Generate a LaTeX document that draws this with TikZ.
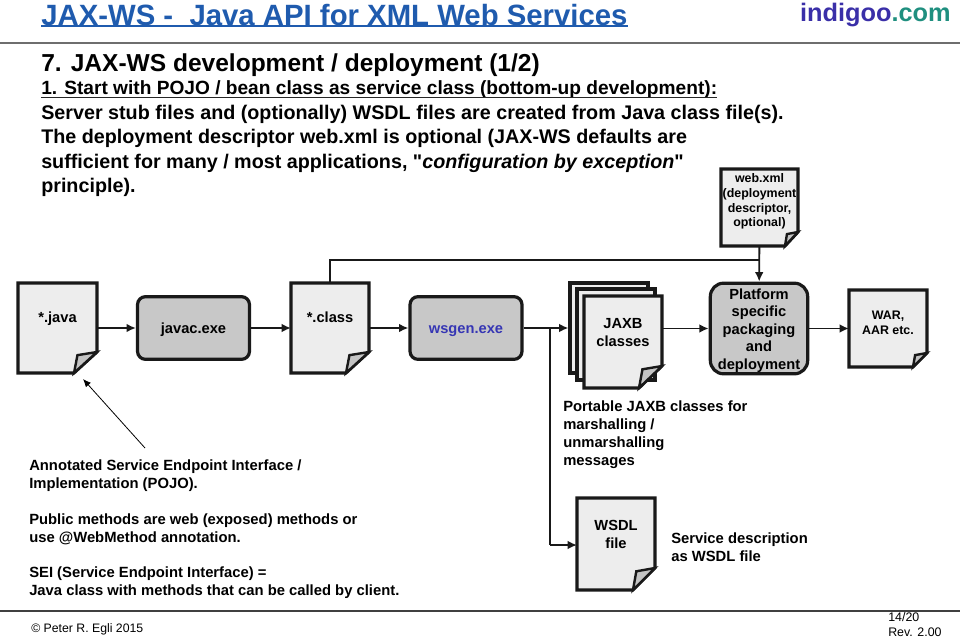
\documentclass[tikz,border=0pt]{standalone}
\usepackage{fontspec}
\setmainfont{Liberation Sans}[Ligatures=TeXOff]
\usetikzlibrary{arrows.meta}
\definecolor{titleblue}{HTML}{1F5BAE}
\definecolor{indigoblue}{HTML}{3A2FA8}
\definecolor{indigoteal}{HTML}{1F8F7F}
\definecolor{wsgenblue}{HTML}{3636B4}
\definecolor{paperfill}{HTML}{EDEDED}
\definecolor{foldfill}{HTML}{C4C4C4}
\definecolor{toolfill}{HTML}{C8C8C8}
\definecolor{rulegray}{HTML}{6E6E6E}
\tikzset{
	toolbox/.style={draw=black!90, line width=2.4pt, fill=toolfill, rounded corners=6pt, inner sep=0pt, text height=8pt, text depth=0pt, font=\fontsize{11}{13.5}\selectfont\bfseries, align=center},
	filepage/.style={draw=black!90, line width=2.3pt, fill=paperfill, line join=miter},
	filefold/.style={draw=black!90, line width=1.8pt, fill=foldfill, line join=miter},
	fileframe/.style={inner sep=0pt, outer sep=0pt},
	filetext/.style={font=\fontsize{11}{13.5}\selectfont\bfseries, align=center, inner sep=0pt},
	filesmall/.style={filetext, font=\fontsize{9.3}{11}\selectfont\bfseries},
	note/.style={font=\fontsize{11.1}{13.3}\selectfont\bfseries, align=left, anchor=north west, inner sep=0pt},
	conn/.style={draw=black!90, line width=1.4pt, -{Latex[length=7pt,width=6.5pt]}},
	branch/.style={draw=black!90, line width=1.4pt}
}
\begin{document}
\begin{tikzpicture}[x=0.75pt, y=-0.75pt]
\useasboundingbox (0,0) rectangle (960,638);

% header
\node[anchor=west, inner sep=0pt, text=titleblue, font=\fontsize{22}{24}\selectfont\bfseries] (title) at (41,15) {JAX-WS -\ \ Java API for XML Web Services};
\draw[titleblue, line width=2pt] (title.south west) -- (title.south east);
\node[anchor=east, inner sep=0pt, font=\fontsize{19}{22}\selectfont\bfseries] (logo) at (951,15) {\textcolor{indigoblue}{indigoo}\textcolor{indigoteal}{.com}};
\coordinate (headleft) at (0,43);
\coordinate (headright) at (960,43);
\draw[rulegray, line width=1.6pt] (headleft) -- (headright);

% body text
\node[anchor=west, inner sep=0pt, font=\fontsize{18.4}{20}\selectfont\bfseries] (heading) at (41,65) {7. JAX-WS development / deployment (1/2)};
\node[anchor=west, inner sep=0pt, font=\fontsize{14.35}{18.3}\selectfont\bfseries] (introhead) at (41,90) {1. Start with POJO / bean class as service class (bottom-up development):};
\draw[black!85, line width=0.9pt] (introhead.base west) ++(0,2.5) coordinate (introlinea) (introhead.base east) ++(0,2.5) coordinate (introlineb) (introlinea) -- (introlineb);
\node[anchor=north west, inner sep=0pt, align=left, font=\fontsize{14.8}{18.3}\selectfont\bfseries] (intro) at (41,105) {Server stub files and (optionally) WSDL files are created from Java class file(s).\\
The deployment descriptor web.xml is optional (JAX-WS defaults are\\
sufficient for many / most applications, "\textit{configuration by exception}"\\
principle).};

% pages behind the JAXB file
\node[filepage, inner sep=0pt, minimum width=58.5pt, minimum height=67.5pt] (jaxbback) at (609,328) {};
\node[filepage, inner sep=0pt, minimum width=58.5pt, minimum height=68.25pt] (jaxbmid) at (616,334.5) {};

% file symbols
\foreach \nm/\xa/\ya/\xb/\yb/\fx/\fy/\ty/\sty/\txt in {
	webxml/721/169/798/246/13/14/201.5/filesmall/{web.xml\\(deployment\\descriptor,\\optional)},
	java/18/283/97/373/23/21/319/filetext/{*.java},
	class/291/283/369/373/23/21/317/filetext/{*.class},
	jaxb/584/296/662/388/23/22/332.5/filetext/{JAXB\\classes},
	war/849/290/927/367/14/14/322.5/filesmall/{WAR,\\AAR etc.},
	wsdl/577/498/655/590/22/22/534/filetext/{WSDL\\file}}
{
	\draw[filepage] (\xa,\ya) -- (\xb,\ya) -- (\xb,\yb-\fy) -- (\xb-\fx,\yb) -- (\xa,\yb) -- cycle;
	\draw[filefold] (\xb-\fx,\yb) -- (\xb-0.85*\fx,\yb-0.85*\fy) -- (\xb,\yb-\fy) -- cycle;
	\node[\sty] (\nm text) at ({(\xa+\xb)/2},\ty) {\txt};
	\node[fileframe, minimum width=(\xb-\xa)*0.75pt, minimum height=(\yb-\ya)*0.75pt] (\nm) at ({(\xa+\xb)/2},{(\ya+\yb)/2}) {};
}

% tools
\node[toolbox, minimum width=84pt, minimum height=47pt] (javac) at (193.5,328) {javac.exe};
\node[toolbox, minimum width=84pt, minimum height=47pt, text=wsgenblue] (wsgen) at (466,328) {wsgen.exe};
\node[toolbox, rounded corners=10pt, minimum width=73pt, minimum height=68pt] (platform) at (759,328.5) {};
\node[filetext, font=\fontsize{11}{13.2}\selectfont\bfseries] (platform text) at (759,330.5) {Platform\\specific\\packaging\\and\\deployment};

% connectors
\draw[conn] (java.east |- javac) -- (javac);
\draw[conn] (javac) -- (class.west |- javac);
\draw[conn] (class.east |- wsgen) -- (wsgen);
\draw[conn] (wsgen) -- (jaxbback.west |- wsgen);
\draw[conn] (jaxb.east |- platform) -- (platform);
\draw[conn] (platform) -- (war.west |- platform);
\draw[conn] (webxml) -- (platform);
\coordinate (webjoin) at (759,260);
\coordinate (classjoin) at (330,260);
\draw[branch] (class.north) -- (classjoin) -- (webjoin);
\coordinate (wsdljoin) at (550,328);
\coordinate (wsdlturn) at (550,545);
\draw[branch] (wsdljoin) -- (wsdlturn);
\draw[conn] (wsdlturn) -- (wsdl.west |- wsdlturn);
\coordinate (notetail) at (145,448);
\coordinate (notehead) at (83,379);
\draw[-{Latex[length=6pt,width=5pt]}, line width=0.6pt] (notetail) -- (notehead);

% notes
\node[note] (pojonote) at (29,460) {Annotated Service Endpoint Interface /\\Implementation (POJO).};
\node[note] (webmethodnote) at (29,514) {Public methods are web (exposed) methods or\\use @WebMethod annotation.};
\node[note] (seinote) at (29,567) {SEI (Service Endpoint Interface) =\\Java class with methods that can be called by client.};
\node[note] (jaxbnote) at (563,401) {Portable JAXB classes for\\marshalling /\\unmarshalling\\messages};
\node[note] (wsdlnote) at (671,533) {Service description\\as WSDL file};

% footer
\coordinate (footleft) at (0,611);
\coordinate (footright) at (960,611);
\draw[black!75, line width=0.8pt] (footleft) -- (footright);
\node[anchor=west, inner sep=0pt, font=\fontsize{9.2}{11}\selectfont] (copyright) at (31,629) {© Peter R. Egli 2015};
\node[anchor=north west, inner sep=0pt, align=left, font=\fontsize{9.3}{11.5}\selectfont] (pageno) at (888,612) {14/20\\Rev. 2.00};
\end{tikzpicture}
\end{document}
